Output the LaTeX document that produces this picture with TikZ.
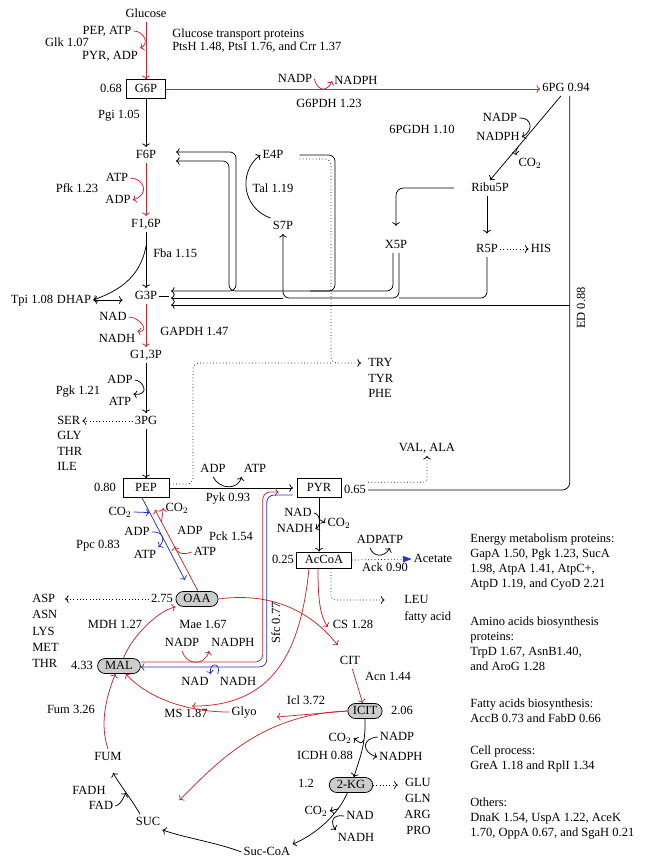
\documentclass[tikz,border=0pt]{standalone}
\usepackage{fontspec}
\setmainfont{Liberation Serif}
\usetikzlibrary{calc,arrows.meta}
\definecolor{rxred}{RGB}{204,36,44}
\definecolor{rxblue}{RGB}{36,48,196}
\tikzset{
  met/.style={inner sep=1.5pt, text height=7pt, text depth=2pt},
  metbox/.style={draw, inner sep=1.5pt, text height=7pt, text depth=2pt, minimum height=15pt},
  pool/.style={draw, fill=gray!40, rounded corners=6pt, inner xsep=6pt, inner ysep=1.5pt, text height=7pt, text depth=2pt},
  syn/.style={dotted, ->}
}
\begin{document}
\begin{tikzpicture}[x=0.8pt, y=-0.8pt, line width=0.6pt, font=\fontsize{10}{12.2}\selectfont]
\useasboundingbox (0,0) rectangle (644,864);

% glycolysis
\node[met] (glc) at (146,14) {Glucose};
\node[met] (pepatp) at (107,31) {PEP,\ ATP};
\node[met] (glk) at (67,43) {Glk 1.07};
\node[met] (pyradp) at (110,56) {PYR, ADP};
\node[met, anchor=west] (pts1) at (170,34) {Glucose transport proteins};
\node[met, anchor=west] (pts2) at (170,47) {PtsH 1.48, PtsI 1.76, and Crr 1.37};
\node[metbox, minimum width=31pt] (g6p) at (146,89) {G6P};
\node[met] (g6pv) at (111,89) {0.68};
\node[met] (pgi) at (119,115) {Pgi 1.05};
\node[met] (f6p) at (146,155) {F6P};
\node[met] (atp2) at (117,178) {ATP};
\node[met] (pfk) at (77,189) {Pfk 1.23};
\node[met] (adp2) at (118,200) {ADP};
\node[met] (fbp) at (146,224) {F1,6P};
\node[met, anchor=west] (fba) at (151,254) {Fba 1.15};
\node[met] (g3p) at (146,296) {G3P};
\node[met] (tpi) at (32,300) {Tpi 1.08};
\node[met] (dhap) at (74,300) {DHAP};
\node[met] (nad3) at (113,317) {NAD};
\node[met] (nadh3) at (117,339) {NADH};
\node[met, anchor=west] (gapdh) at (158,332) {GAPDH 1.47};
\node[met] (g13p) at (146,355) {G1,3P};
\node[met] (adp4) at (120,380) {ADP};
\node[met] (pgk) at (78,391) {Pgk 1.21};
\node[met] (atp4) at (120,402) {ATP};
\node[met] (pg3) at (146,421) {3PG};
\node[met, anchor=west] (ser) at (55,421) {SER};
\node[met, anchor=west] (gly) at (55,436) {GLY};
\node[met, anchor=west] (thr1) at (55,452) {THR};
\node[met, anchor=west] (ile) at (55,467) {ILE};
\node[metbox, minimum width=37pt] (pep) at (146,488) {PEP};
\node[met] (pepv) at (105,488) {0.80};
\node[met] (adp5) at (213,469) {ADP};
\node[met] (atp5) at (255,469) {ATP};
\node[met] (pyk) at (228,498) {Pyk 0.93};
\node[metbox, minimum width=35pt] (pyr) at (319,488) {PYR};
\node[met] (pyrv) at (355,490) {0.65};
\node[met] (valala) at (427,448) {VAL, ALA};

\draw[rxred,->] (glc) -- (g6p);
\draw[rxred,->] (pepatp.east) .. controls (144,31) and (150,44) .. (pyradp.north east);
\draw[->] (g6p) -- (f6p);
\draw[rxred,->] (f6p) -- (fbp);
\draw[rxred,->] (atp2.east) .. controls (143,178) and (151,194) .. (adp2.east);
\draw[->] (fbp) -- coordinate[pos=0.25] (fbac) (g3p);
\draw[->] (fbac) .. controls (140,280) and (115,292) .. (dhap.east);
\draw[<->, shorten >=8pt] (dhap.east) -- (dhap.east -| g3p.west);
\draw[rxred,->] (g3p) -- (g13p);
\draw[rxred,->] (nad3.east) .. controls (140,317) and (151,333) .. (nadh3.north east);
\draw[->] (g13p) -- (pg3);
\draw[->] (adp4.east) .. controls (143,380) and (151,396) .. (atp4.north east);
\draw[syn] (pg3.west) -- (ser.east);
\draw[->] (pg3) -- (pep);
\draw[->, shorten >=3pt] (pep) -- (pyr);
\draw[->] (adp5.south) .. controls (220,490) and (238,490) .. (atp5.south west);
\draw[syn, rounded corners=3pt] (pyrv.north east) -| (valala.south);

% pentose phosphate
\node[met] (nadp1) at (295,79) {NADP};
\node[met] (nadph1) at (356,81) {NADPH};
\node[met] (g6pdh) at (329,104) {G6PDH 1.23};
\node[met] (pg6) at (566,88) {6PG 0.94};
\node[met] (nadp2) at (500,118) {NADP};
\node[met] (nadph2) at (498,137) {NADPH};
\node[met] (co2a) at (530,163) {CO$_2$};
\node[met] (pgdh) at (422,130) {6PGDH 1.10};
\node[met] (ribu) at (490,188) {Ribu5P};
\node[met] (e4p) at (273,155) {E4P};
\node[met] (tal) at (273,189) {Tal 1.19};
\node[met] (s7p) at (283,226) {S7P};
\node[met] (x5p) at (396,245) {X5P};
\node[met] (r5p) at (487,249) {R5P};
\node[met] (his) at (541,249) {HIS};
\node[met, rotate=90] (edv) at (582,308) {ED 0.88};
\node[met, anchor=west] (try) at (366,363) {TRY};
\node[met, anchor=west] (tyr) at (366,379) {TYR};
\node[met, anchor=west] (phe) at (366,394) {PHE};
\coordinate (f6pa) at (176,152);
\coordinate (f6pb) at (176,161);
\coordinate (g3pa) at (171,291);
\coordinate (g3pb) at (171,298);
\coordinate (g3pc) at (171,305);

\draw[rxred,->] (g6p) -- (g6p -| pg6.west);
\draw[rxred,->] (nadp1.east) .. controls (318,92) and (327,92) .. (nadph1.west);
\draw[->] ([xshift=-4pt]pg6.south) -- coordinate[pos=0.6] (pgdc) (ribu.north);
\draw[->] (nadp2.east) .. controls (532,117) and (534,131) .. (nadph2.east);
\draw[->] (pgdc) .. controls +(-3,5) .. (co2a.north west);
\draw[rounded corners=6pt] ([xshift=3pt]pg6.south) |- (pyrv.east);
\draw[->, rounded corners=6pt, shorten <=12pt, shorten >=9pt] (ribu.west) -| (x5p.north);
\draw[->, shorten >=6pt] (ribu.south -| r5p) -- (r5p.north);
\draw[syn] (r5p) -- (his);
\draw (g3p.east) -- ++(10,0);
\draw[<->, rounded corners=5pt] (f6pa) -| (236,291) -- (g3pa);
\draw[->, rounded corners=5pt] ($(x5p.south)+(-3,0)$) |- (229,291) |- (f6pb);
\draw[rounded corners=5pt] ($(e4p.east)+(14,0)$) -| (335,291) -- (310,291);
\draw[syn, rounded corners=5pt, shorten >=4pt] ($(e4p.east)+(14,4)$) -| (331,363) -- (try.west);
\draw[dotted, rounded corners=5pt] ($(pep.east)+(0,-4)$) -| (193,363) -- (331,363);
\draw[->, rounded corners=5pt] ($(x5p.south)+(3,0)$) |- (283,298) -- (s7p.south);
\draw[->] (283,298) -- (g3pb);
\draw[rounded corners=5pt] (r5p.south) |- (399,298);
\draw[->] ([xshift=3pt]pg6.south |- g3pc) -- (g3pc);
\draw[->] (s7p.north west) .. controls (242,208) and (238,172) .. (e4p.west);

% pyruvate node
\node[metbox, minimum width=44pt, minimum height=13pt] (accoa) at (324,560) {AcCoA};
\node[met] (accoav) at (283,560) {0.25};
\node[met] (nad6) at (298,513) {NAD};
\node[met] (nadh6) at (295,529) {NADH};
\node[met] (co2d) at (339,523) {CO$_2$};
\node[met] (adpatp) at (380,540) {ADPATP};
\node[met] (ack) at (385,568) {Ack 0.90};
\node[met] (acet) at (433,559) {Acetate};
\node[met, anchor=west] (leu) at (402,600) {LEU};
\node[met, anchor=west] (fatty) at (402,617) {fatty acid};

\draw[->] (pyr.south) -- coordinate[pos=0.4] (pdhc) (pyr.south |- accoa.north);
\draw[->] (nad6.east) .. controls (321,514) and (321,526) .. (nadh6.east);
\draw[->] (pdhc) .. controls (322,520) .. (co2d.west);
\draw[dotted, -{Triangle[color=rxblue, length=7pt, width=5pt]}] (accoa.east) -- (acet.west);
\draw[->] ($(adpatp.south)+(-10,0)$) .. controls (373,557) and (384,558) .. ($(adpatp.south)+(10,0)$);
\draw[syn, rounded corners=3pt, shorten >=14pt] ($(accoa.south)+(7,0)$) |- (leu.west);

% anaplerotic
\node[pool] (oaa) at (197,599) {OAA};
\node[met] (oaav) at (162,599) {2.75};
\node[met, anchor=west] (asp) at (30,599) {ASP};
\node[met, anchor=west] (asn) at (30,615) {ASN};
\node[met, anchor=west] (lys) at (30,632) {LYS};
\node[met, anchor=west] (met) at (30,648) {MET};
\node[met, anchor=west] (thr2) at (30,664) {THR};
\node[pool] (mal) at (119,666) {MAL};
\node[met] (malv) at (82,666) {4.33};
\node[met] (mdh) at (115,625) {MDH 1.27};
\node[met] (co2b) at (120,512) {CO$_2$};
\node[met] (adpb) at (137,532) {ADP};
\node[met] (atpb) at (145,555) {ATP};
\node[met] (ppc) at (98,545) {Ppc 0.83};
\node[met] (co2c) at (177,508) {CO$_2$};
\node[met] (adpc) at (190,531) {ADP};
\node[met] (atpc) at (205,552) {ATP};
\node[met] (pck) at (231,537) {Pck 1.54};
\node[met] (mae) at (203,625) {Mae 1.67};
\node[met] (nadp7) at (182,643) {NADP};
\node[met] (nadph7) at (233,643) {NADPH};
\node[met] (nad7) at (195,682) {NAD};
\node[met] (nadh7) at (238,682) {NADH};
\node[met, rotate=90] (sfc) at (277,623) {Sfc 0.77};

\draw[syn, shorten >=6pt] (oaav.west) -- (asp.east);
\draw[rxred,->] (mal.60) .. controls (130,640) and (155,612) .. (oaa.-160);
\draw[rxblue,->] ($(pep.south)+(-4,0)$) -- coordinate[pos=0.18] (ppc1) ($(oaa.north)+(-12,-11)$);
\draw[rxblue,->] (co2b.east) -- (ppc1);
\draw[rxblue,->] (adpb.east) .. controls (163,531) and (166,540) .. (atpb.north east);
\draw[rxred,->] ($(oaa.north)+(1,0)$) -- coordinate[pos=0.55] (pck1) coordinate[pos=0.85] (pck2) ($(pep.south)+(9,12)$);
\draw[rxred,->] (atpc.west) .. controls (182,556) and (176,552) .. (pck1);
\draw[rxred,->] (pck2) .. controls (163,515) .. (co2c.west);
\draw[rxred,->, rounded corners=6pt] ($(mal.east)+(0,-4)$) -| ($(pyr.west)+(-34,4)$) -- ($(pyr.west)+(-18,4)$);
\draw[rxblue,->, rounded corners=6pt] ($(pyr.west)+(-4,7)$) -| ($(mal.east)+(126,1)$) -- ($(mal.east)+(0,1)$);
\draw[rxred,->] (nadp7.south) .. controls (186,665) and (204,667) .. (nadph7.south west);
\draw[rxblue,->] (nadh7.north west) .. controls (222,662) and (208,662) .. (nad7.north east);

% TCA cycle and glyoxylate shunt
\node[met] (cs) at (353,625) {CS 1.28};
\node[met] (cit) at (350,661) {CIT};
\node[met] (acn) at (388,677) {Acn 1.44};
\node[pool, inner xsep=4pt] (icit) at (365,711) {ICIT};
\node[met] (icitv) at (402,711) {2.06};
\node[met] (icl) at (306,701) {Icl 3.72};
\node[met] (ms) at (186,714) {MS 1.87};
\node[met] (glyo) at (244,712) {Glyo};
\node[met] (co2e) at (340,738) {CO$_2$};
\node[met] (icdh) at (325,756) {ICDH 0.88};
\node[met] (nadp8) at (397,737) {NADP};
\node[met] (nadph8) at (401,757) {NADPH};
\node[pool] (akg) at (351,785) {2-KG};
\node[met] (akgv) at (306,784) {1.2};
\node[met, anchor=east] (glu) at (433,783) {GLU};
\node[met, anchor=east] (gln) at (433,799) {GLN};
\node[met, anchor=east] (arg) at (433,815) {ARG};
\node[met, anchor=east] (pro) at (433,831) {PRO};
\node[met] (co2f) at (316,811) {CO$_2$};
\node[met] (nad9) at (360,816) {NAD};
\node[met] (nadh9) at (356,838) {NADH};
\node[met] (succoa) at (267,852) {Suc-CoA};
\node[met] (suc) at (148,822) {SUC};
\node[met] (fadh) at (89,791) {FADH};
\node[met] (fad) at (101,806) {FAD};
\node[met] (fum) at (108,757) {FUM};
\node[met] (fumr) at (71,710) {Fum 3.26};

\draw[rxred,->] ($(accoa.south)+(-6,0)$) .. controls (318,600) and (320,615) .. ($(cit.north west)+(-10,-26)$);
\draw[rxred,->] (oaa.east) .. controls (270,592) and (310,610) .. ($(cit.north west)+(0,-8)$);
\draw[rxred,->] ($(accoa.south)+(-15,0)$) .. controls (300,660) and (268,706) .. ($(ms.north)+(6,0)$);
\draw[rxred,->] (glyo.west) .. controls (190,712) and (150,700) .. (mal.-50);
\draw[rxred,->] (cit) -- (icit);
\draw[rxred,->] (icit.west) -- ($(glyo.east)+(18,5)$);
\draw[rxred,->] (icit.west) .. controls (260,714) and (215,765) .. ($(suc.north east)+(17,-14)$);
\draw[->] (icit.south) .. controls (366,745) and (359,760) .. coordinate[pos=0.3] (icdc) (akg.70);
\draw[->] (icdc) .. controls (361,744) .. (co2e.east);
\draw[->] (nadp8.west) .. controls (362,738) and (361,752) .. (nadph8.west);
\draw[syn, shorten >=4pt] (akg.east) -- (akg.east -| glu.west);
\draw[->] (akg.-115) .. controls (338,815) and (315,835) .. coordinate[pos=0.25] (kgc) (succoa.north east);
\draw[->] (kgc) -- (co2f.east);
\draw[->] (nad9.west) .. controls (332,814) and (330,822) .. (nadh9.north west);
\draw[->] (succoa.west) .. controls (215,842) and (185,838) .. (suc.south east);
\draw[->] ($(suc.north)+(-8,0)$) .. controls (132,800) and (120,785) .. coordinate[pos=0.5] (sdhc) ($(fum.south)+(5,8)$);
\draw[->] (fad.east) .. controls (120,804) .. (sdhc);
\draw[rxred,->] (fum.north) .. controls (100,725) and (105,700) .. (mal.-115);

% protein notes
\node[anchor=north west, inner sep=0pt, align=left] (energy) at (470,533) {Energy metabolism proteins:\\GapA 1.50, Pgk 1.23, SucA\\1.98, AtpA 1.41, AtpC+,\\AtpD 1.19, and CyoD 2.21};
\node[anchor=north west, inner sep=0pt, align=left] (amino) at (470,616) {Amino acids biosynthesis\\proteins:\\TrpD 1.67, AsnB1.40,\\and AroG 1.28};
\node[anchor=north west, inner sep=0pt, align=left] (fatacid) at (470,698) {Fatty acids biosynthesis:\\AccB 0.73 and FabD 0.66};
\node[anchor=north west, inner sep=0pt, align=left] (cellp) at (470,745) {Cell process:\\GreA 1.18 and RplI 1.34};
\node[anchor=north west, inner sep=0pt, align=left] (others) at (470,797) {Others:\\DnaK 1.54, UspA 1.22, AceK\\1.70, OppA 0.67, and SgaH 0.21};
\end{tikzpicture}
\end{document}
